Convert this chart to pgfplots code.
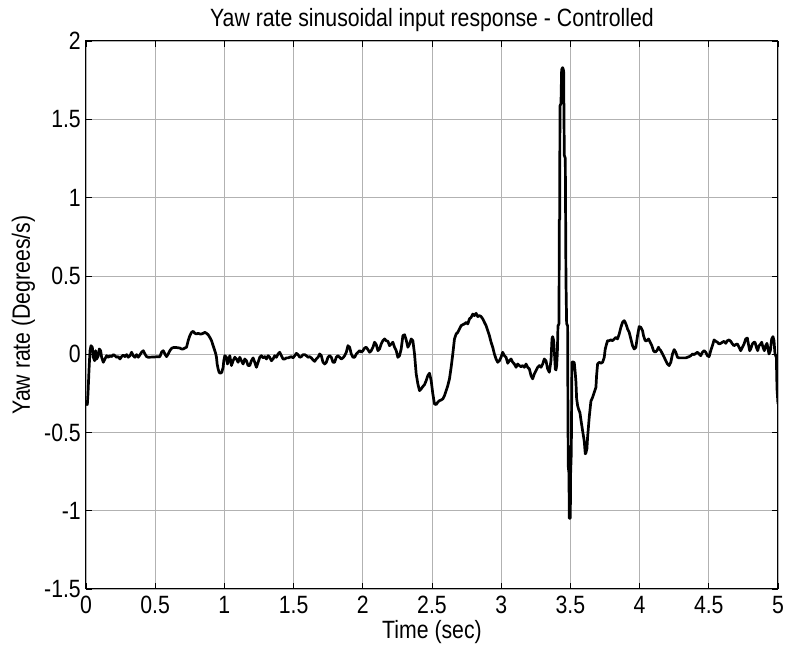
\documentclass[border=0pt]{standalone}
\usepackage{fontspec}
\setmainfont{Liberation Sans}[FakeStretch=0.85]
\usepackage{pgfplots}
\pgfplotsset{compat=1.18}

\begin{document}
\begin{tikzpicture}
\useasboundingbox (-86pt,-58pt) rectangle (702pt,589pt);
\begin{axis}[
  at={(0pt,0pt)}, anchor=south west,
  scale only axis, width=692pt, height=548pt,
  xmin=0, xmax=5, ymin=-1.5, ymax=2,
  xtick={0,0.5,1,1.5,2,2.5,3,3.5,4,4.5,5},
  xticklabels={0,0.5,1,1.5,2,2.5,3,3.5,4,4.5,5},
  ytick={-1.5,-1,-0.5,0,0.5,1,1.5,2},
  yticklabels={-1.5,-1,-0.5,0,0.5,1,1.5,2},
  grid=major,
  major grid style={gray!60, line width=0.6pt},
  tick align=inside, major tick length=6pt,
  tick style={black, line width=0.6pt},
  axis line style={black, line width=1pt},
  tick label style={font=\fontsize{25}{29}\selectfont},
  xticklabel style={anchor=base, yshift=-25pt},
  yticklabel style={anchor=east, inner sep=0pt, xshift=-5pt},
  title={Yaw rate sinusoidal input response - Controlled},
  title style={at={(axis description cs:0.5,1.0164)}, anchor=base,
    font=\fontsize{25}{29}\selectfont},
  xlabel={Time (sec)},
  xlabel style={at={(axis description cs:0.5,-0.0912)}, anchor=base,
    font=\fontsize{25}{29}\selectfont},
  ylabel={Yaw rate (Degrees/s)},
  ylabel style={at={(axis description cs:-0.081,0.5)}, rotate=0, anchor=base,
    font=\fontsize{25}{29}\selectfont},
]
\addplot[black, line width=2.7pt, line join=round] table {
x y
0.000 -0.318
0.0096 -0.322
0.0144 -0.254
0.0216 -0.105
0.0289 0.022
0.0361 0.054
0.0457 0.044
0.0529 -0.020
0.0625 -0.042
0.0697 0.022
0.0770 -0.031
0.0890 -0.010
0.0962 0.033
0.1058 0.022
0.1130 -0.020
0.1251 -0.052
0.1371 -0.031
0.1491 -0.010
0.1611 -0.020
0.1732 -0.010
0.1852 -0.016
0.1972 -0.003
0.2092 -0.010
0.2213 -0.020
0.2333 -0.016
0.2453 -0.031
0.2573 -0.016
0.2694 -0.006
0.2814 -0.016
0.2934 -0.003
0.3054 -0.020
0.3175 -0.010
0.3295 0.012
0.3415 -0.010
0.3535 -0.020
0.3656 -0.003
0.3776 -0.020
0.3896 -0.005
0.4016 0.012
0.4137 0.022
0.4257 0.001
0.4377 -0.016
0.4497 -0.020
0.5339 -0.016
0.5459 0.012
0.5580 0.022
0.5700 0.001
0.5820 -0.016
0.5940 0.001
0.6061 0.022
0.6181 0.037
0.6301 0.042
0.6542 0.042
0.6782 0.039
0.6902 0.033
0.7023 0.033
0.7143 0.039
0.7263 0.044
0.7383 0.086
0.7504 0.118
0.7624 0.139
0.7744 0.146
0.7864 0.133
0.7985 0.129
0.8105 0.133
0.8225 0.129
0.8345 0.129
0.8466 0.133
0.8586 0.139
0.8706 0.133
0.8826 0.124
0.8947 0.107
0.9067 0.086
0.9187 0.054
0.9307 0.022
0.9379 0.001
0.9428 -0.020
0.9476 -0.063
0.9548 -0.095
0.9620 -0.116
0.9716 -0.122
0.9813 -0.116
0.9909 -0.084
0.9957 -0.042
1.0029 -0.010
1.0149 -0.020
1.0221 -0.063
1.0293 -0.042
1.0390 -0.010
1.0510 -0.073
1.0630 -0.042
1.0750 -0.020
1.0871 -0.031
1.0991 -0.052
1.1111 -0.020
1.1231 -0.042
1.1352 -0.063
1.1472 -0.031
1.1592 -0.042
1.1712 -0.073
1.1833 -0.073
1.1953 -0.042
1.2074 -0.024
1.2194 -0.052
1.2314 -0.084
1.2434 -0.052
1.2555 -0.020
1.2675 -0.010
1.2795 -0.024
1.2915 -0.016
1.3036 -0.031
1.3156 -0.010
1.3276 -0.020
1.3396 -0.042
1.3517 -0.031
1.3637 -0.010
1.3757 -0.020
1.3877 0.001
1.3998 0.012
1.4118 -0.010
1.4238 -0.031
1.4358 -0.031
1.4479 -0.024
1.4599 -0.024
1.4719 -0.020
1.4839 -0.016
1.4960 -0.024
1.5080 -0.010
1.5200 0.005
1.5320 -0.003
1.5441 -0.020
1.5561 -0.016
1.5681 -0.003
1.5801 -0.003
1.5922 -0.010
1.6042 -0.020
1.6162 -0.016
1.6282 -0.024
1.6403 -0.037
1.6523 -0.046
1.6643 -0.031
1.6763 -0.020
1.6884 0.001
1.7004 -0.010
1.7124 -0.052
1.7244 -0.063
1.7365 -0.052
1.7485 -0.020
1.7605 -0.010
1.7725 -0.020
1.7846 -0.052
1.7966 -0.052
1.8086 -0.020
1.8206 -0.010
1.8327 -0.020
1.8447 -0.031
1.8567 -0.024
1.8687 -0.010
1.8808 0.012
1.8928 0.054
1.9048 0.044
1.9168 0.001
1.9289 -0.020
1.9409 -0.020
1.9529 0.001
1.9649 0.012
1.9770 0.022
1.9890 0.012
2.0010 0.022
2.0130 0.039
2.0251 0.044
2.0371 0.029
2.0491 0.012
2.0611 0.022
2.0732 0.044
2.0852 0.076
2.0972 0.061
2.1092 0.022
2.1213 0.033
2.1333 0.065
2.1453 0.086
2.1573 0.097
2.1694 0.086
2.1814 0.082
2.1934 0.054
2.2054 0.065
2.2175 0.076
2.2295 0.044
2.2415 0.022
2.2535 -0.020
2.2655 -0.010
2.2775 0.033
2.2896 0.118
2.3016 0.124
2.3136 0.091
2.3256 0.044
2.3377 0.065
2.3497 0.097
2.3617 0.086
2.3737 0.001
2.3858 -0.126
2.3978 -0.190
2.4098 -0.233
2.4218 -0.222
2.4339 -0.207
2.4459 -0.195
2.4579 -0.169
2.4699 -0.137
2.4820 -0.122
2.4940 -0.169
2.5060 -0.254
2.5180 -0.318
2.5301 -0.322
2.5421 -0.307
2.5541 -0.297
2.5661 -0.293
2.5782 -0.286
2.5902 -0.265
2.6022 -0.233
2.6142 -0.201
2.6263 -0.158
2.6383 -0.084
2.6503 0.001
2.6623 0.097
2.6744 0.129
2.6864 0.139
2.6984 0.161
2.7104 0.182
2.7225 0.188
2.7345 0.193
2.7465 0.203
2.7585 0.193
2.7706 0.225
2.7826 0.235
2.7946 0.256
2.8066 0.246
2.8187 0.261
2.8307 0.240
2.8427 0.246
2.8547 0.240
2.8668 0.225
2.8788 0.203
2.8908 0.182
2.9028 0.150
2.9149 0.118
2.9269 0.076
2.9389 0.044
2.9509 0.001
2.9630 -0.031
2.9750 -0.052
2.9870 -0.042
2.9990 -0.020
3.0111 0.012
3.0231 -0.010
3.0351 -0.020
3.0471 -0.058
3.0592 -0.042
3.0712 -0.031
3.0832 -0.052
3.0952 -0.063
3.1073 -0.084
3.1193 -0.063
3.1313 -0.073
3.1433 -0.080
3.1554 -0.073
3.1674 -0.084
3.1794 -0.063
3.1914 -0.084
3.2035 -0.095
3.2155 -0.137
3.2275 -0.158
3.2395 -0.126
3.2516 -0.105
3.2636 -0.084
3.2756 -0.073
3.2876 -0.084
3.2997 -0.063
3.3117 -0.031
3.3237 -0.042
3.3357 -0.095
3.3478 -0.116
3.3598 -0.042
3.3670 0.097
3.3718 0.112
3.3790 0.086
3.3838 0.022
3.3910 -0.095
3.3959 -0.101
3.4007 -0.073
3.4055 0.001
3.4103 0.182
3.4151 0.188
3.4175 0.196
3.4199 0.858
3.4224 0.860
3.4247 1.585
3.4319 1.600
3.4367 1.817
3.4440 1.830
3.4512 1.810
3.4560 1.270
3.4632 1.250
3.4680 0.470
3.4728 0.196
3.4800 0.180
3.4824 -0.400
3.4848 -0.720
3.4896 -0.760
3.4920 -1.048
3.4993 -1.048
3.5017 -0.760
3.5065 -0.630
3.5113 -0.050
3.5209 -0.050
3.5281 -0.055
3.5353 -0.123
3.5402 -0.180
3.5450 -0.283
3.5522 -0.329
3.5594 -0.352
3.5690 -0.374
3.5762 -0.420
3.5882 -0.489
3.6003 -0.557
3.6075 -0.637
3.6123 -0.630
3.6195 -0.603
3.6243 -0.531
3.6364 -0.400
3.6484 -0.300
3.6604 -0.276
3.6724 -0.244
3.6845 -0.212
3.6893 -0.137
3.6965 -0.063
3.7085 -0.052
3.7206 -0.058
3.7326 -0.052
3.7446 -0.020
3.7518 0.033
3.7614 0.065
3.7686 0.086
3.7806 0.086
3.7927 0.091
3.8047 0.086
3.8167 0.097
3.8287 0.107
3.8408 0.097
3.8528 0.129
3.8648 0.171
3.8768 0.203
3.8889 0.214
3.8961 0.203
3.9057 0.182
3.9129 0.161
3.9250 0.139
3.9370 0.097
3.9490 0.054
3.9610 0.033
3.9731 0.044
3.9851 0.118
3.9971 0.176
4.0091 0.171
4.0212 0.150
4.0284 0.118
4.0404 0.086
4.0524 0.086
4.0645 0.097
4.0765 0.076
4.0885 0.054
4.1005 0.022
4.1126 0.012
4.1246 0.022
4.1366 0.044
4.1420 0.033
4.1534 0.022
4.1655 0.001
4.1775 -0.020
4.1895 -0.042
4.2015 -0.063
4.2136 -0.073
4.2256 -0.052
4.2376 0.001
4.2496 0.029
4.2617 0.012
4.2737 -0.020
4.2857 -0.024
4.3098 -0.024
4.3338 -0.024
4.3458 -0.020
4.3579 -0.016
4.3699 -0.010
4.3819 0.001
4.3939 -0.003
4.4060 0.005
4.4180 0.012
4.4300 0.001
4.4420 -0.010
4.4541 0.012
4.4661 0.022
4.4781 0.012
4.4901 -0.010
4.5022 -0.016
4.5142 0.022
4.5262 0.054
4.5382 0.091
4.5503 0.082
4.5623 0.076
4.5743 0.065
4.5863 0.069
4.5984 0.076
4.6104 0.082
4.6224 0.069
4.6344 0.086
4.6465 0.091
4.6585 0.082
4.6705 0.065
4.6825 0.054
4.6946 0.061
4.7066 0.065
4.7186 0.044
4.7306 0.022
4.7427 0.044
4.7547 0.065
4.7667 0.097
4.7787 0.103
4.7860 0.065
4.7956 0.022
4.8028 0.033
4.8148 0.065
4.8268 0.076
4.8340 0.076
4.8437 0.044
4.8533 0.022
4.8629 0.054
4.8749 0.065
4.8821 0.076
4.8917 0.044
4.9014 0.022
4.9110 0.054
4.9206 0.069
4.9278 0.033
4.9350 0.001
4.9447 0.022
4.9543 0.097
4.9639 0.112
4.9711 0.086
4.9783 0.001
4.9880 -0.020
4.9928 -0.222
5.0000 -0.318
};
\end{axis}
\end{tikzpicture}
\end{document}
